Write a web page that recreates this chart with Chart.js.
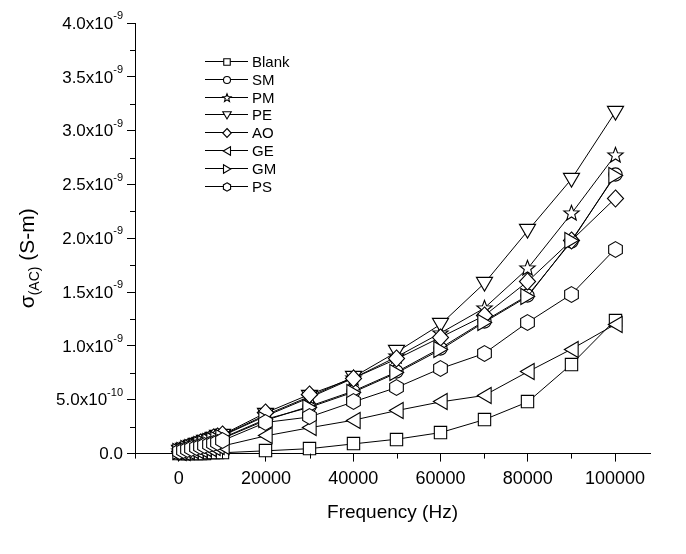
<!DOCTYPE html>
<html>
<head>
<meta charset="utf-8">
<script src="https://cdn.jsdelivr.net/npm/chart.js@4.4.0/dist/chart.umd.min.js"></script>
<style>
  body { margin: 0; background: #fff; }
</style>
</head>
<body>
<canvas id="myChart" width="686" height="554"></canvas>
<script>
// frequency in Hz, conductivity in units of 1e-9 S-m
var freqHz = [100, 1000, 2000, 3000, 4000, 5000, 6000, 7000, 8000, 9000, 10000,
              20000, 30000, 40000, 50000, 60000, 70000, 80000, 90000, 100000];

var blank = [0.001, 0.002, 0.002, 0.003, 0.004, 0.004, 0.005, 0.006, 0.006, 0.007, 0.008,
             0.026, 0.046, 0.09, 0.134, 0.195, 0.315, 0.48, 0.83, 1.24];
var sm    = [0.018, 0.031, 0.043, 0.055, 0.066, 0.079, 0.091, 0.103, 0.115, 0.127, 0.14,
             0.31, 0.44, 0.58, 0.76, 0.98, 1.23, 1.47, 1.97, 2.59];
var pm    = [0.02, 0.034, 0.048, 0.063, 0.077, 0.091, 0.106, 0.12, 0.135, 0.15, 0.165,
             0.35, 0.52, 0.70, 0.90, 1.12, 1.35, 1.72, 2.23, 2.77];
var pe    = [0.02, 0.035, 0.05, 0.066, 0.081, 0.096, 0.11, 0.126, 0.141, 0.156, 0.17,
             0.36, 0.53, 0.71, 0.945, 1.20, 1.58, 2.07, 2.55, 3.17];
var ao    = [0.022, 0.038, 0.054, 0.07, 0.086, 0.10, 0.116, 0.131, 0.146, 0.161, 0.175,
             0.38, 0.55, 0.70, 0.88, 1.08, 1.28, 1.60, 1.98, 2.37];
var ge    = [0.008, 0.014, 0.02, 0.026, 0.032, 0.039, 0.045, 0.051, 0.057, 0.063, 0.07,
             0.165, 0.24, 0.31, 0.40, 0.48, 0.54, 0.76, 0.97, 1.20];
var gm    = [0.018, 0.03, 0.043, 0.056, 0.069, 0.082, 0.095, 0.108, 0.12, 0.133, 0.145,
             0.32, 0.43, 0.57, 0.75, 0.965, 1.22, 1.46, 1.98, 2.58];
var ps    = [0.015, 0.025, 0.035, 0.045, 0.056, 0.066, 0.076, 0.086, 0.096, 0.107, 0.12,
             0.29, 0.34, 0.48, 0.615, 0.79, 0.93, 1.22, 1.48, 1.90];

var seriesNames  = ['Blank', 'SM', 'PM', 'PE', 'AO', 'GE', 'GM', 'PS'];
var seriesValues = [blank, sm, pm, pe, ao, ge, gm, ps];
var seriesShapes = ['square', 'circle', 'star', 'triDown', 'diamond', 'triLeft', 'triRight', 'hexagon'];

var xTicks = [0, 20000, 40000, 60000, 80000, 100000];
var xMinorTicks = [-10000, 10000, 30000, 50000, 70000, 90000];
var yTicks = [0, 0.5, 1, 1.5, 2, 2.5, 3, 3.5, 4];
var yMinorTicks = [0.25, 0.75, 1.25, 1.75, 2.25, 2.75, 3.25, 3.75];
var yTickMant = ['0.0', '5.0x10', '1.0x10', '1.5x10', '2.0x10', '2.5x10', '3.0x10', '3.5x10', '4.0x10'];
var yTickExp  = ['', '-10', '-9', '-9', '-9', '-9', '-9', '-9', '-9'];

var FONT = '"Liberation Sans", Arial, sans-serif';

function makeMarker(shape, k) {
  var size = Math.ceil(20 * k) + 2;
  var c = document.createElement('canvas');
  c.width = size; c.height = size;
  var g = c.getContext('2d');
  g.translate(size / 2, size / 2);
  g.scale(k, k);
  g.beginPath();
  var i, a;
  if (shape == 'square') {
    g.rect(-6.5, -6.5, 13, 13);
  } else if (shape == 'circle') {
    g.arc(0, 0, 7, 0, Math.PI * 2);
  } else if (shape == 'star') {
    for (i = 0; i < 10; i++) {
      a = -Math.PI / 2 + i * Math.PI / 5;
      var r = i % 2 ? 3.6 : 8.5;
      g.lineTo(r * Math.cos(a), r * Math.sin(a));
    }
  } else if (shape == 'triDown') {
    g.moveTo(-8.5, -6.5); g.lineTo(8.5, -6.5); g.lineTo(0, 8);
  } else if (shape == 'diamond') {
    g.moveTo(0, -9); g.lineTo(8.5, 0); g.lineTo(0, 9); g.lineTo(-8.5, 0);
  } else if (shape == 'triLeft') {
    g.moveTo(-7.5, 0); g.lineTo(7, -8.5); g.lineTo(7, 8.5);
  } else if (shape == 'triRight') {
    g.moveTo(7.5, 0); g.lineTo(-7, -8.5); g.lineTo(-7, 8.5);
  } else if (shape == 'hexagon') {
    for (i = 0; i < 6; i++) {
      a = -Math.PI / 2 + i * Math.PI / 3;
      g.lineTo(8.3 * Math.cos(a), 8.3 * Math.sin(a));
    }
  }
  g.closePath();
  g.fillStyle = '#fff';
  g.fill();
  g.lineWidth = 1.1 / k;
  g.strokeStyle = '#000';
  g.stroke();
  return c;
}

var datasets = seriesNames.map(function (name, i) {
  return {
    label: name,
    data: freqHz.map(function (f, j) { return { x: f, y: seriesValues[i][j] }; }),
    borderColor: '#000',
    backgroundColor: '#fff',
    borderWidth: 1,
    pointStyle: makeMarker(seriesShapes[i], 0.95),
    pointRadius: 6,
    fill: false,
    tension: 0,
    clip: false,
    order: seriesNames.length - i
  };
});

var extras = {
  id: 'extras',
  beforeDatasetsDraw: function (chart) {
    // keep the marker images crisp at fractional positions
    chart.ctx.imageSmoothingEnabled = false;
  },
  afterDatasetsDraw: function (chart) {
    chart.ctx.imageSmoothingEnabled = true;
  },
  afterDraw: function (chart) {
    var ctx = chart.ctx, xs = chart.scales.x, ys = chart.scales.y;
    ctx.save();
    ctx.strokeStyle = '#000';
    ctx.lineWidth = 1;
    ctx.beginPath();
    xMinorTicks.forEach(function (v) {
      var px = Math.round(xs.getPixelForValue(v)) + 0.5;
      ctx.moveTo(px, ys.bottom); ctx.lineTo(px, ys.bottom + 5);
    });
    yMinorTicks.forEach(function (v) {
      var py = Math.round(ys.getPixelForValue(v)) + 0.5;
      ctx.moveTo(xs.left, py); ctx.lineTo(xs.left - 5, py);
    });
    ctx.stroke();

    // y tick labels with superscript exponent
    ctx.fillStyle = '#000';
    var right = xs.left - 12;
    yTicks.forEach(function (v, i) {
      var py = ys.getPixelForValue(v);
      ctx.font = '11px ' + FONT;
      var ew = yTickExp[i] ? ctx.measureText(yTickExp[i]).width : 0;
      ctx.textBaseline = 'middle';
      ctx.textAlign = 'left';
      if (ew) ctx.fillText(yTickExp[i], right - ew, py - 7);
      ctx.font = '17px ' + FONT;
      ctx.textAlign = 'right';
      ctx.fillText(yTickMant[i], right - ew, py + 1);
    });

    // y axis title with subscript
    ctx.save();
    ctx.translate(27, (ys.top + ys.bottom) / 2 + 20);
    ctx.rotate(-Math.PI / 2);
    ctx.textAlign = 'left';
    ctx.textBaseline = 'alphabetic';
    ctx.font = '21px ' + FONT;
    var w1 = ctx.measureText('\u03c3').width;
    var w3 = ctx.measureText(' (S-m)').width;
    ctx.font = '14px ' + FONT;
    var w2 = ctx.measureText('(AC)').width;
    var x0 = -(w1 + w2 + w3) / 2;
    ctx.font = '21px ' + FONT;
    ctx.fillText('\u03c3', x0, 7);
    ctx.font = '14px ' + FONT;
    ctx.fillText('(AC)', x0 + w1, 12);
    ctx.font = '21px ' + FONT;
    ctx.fillText(' (S-m)', x0 + w1 + w2, 7);
    ctx.restore();

    // legend
    ctx.font = '15px ' + FONT;
    ctx.textAlign = 'left';
    ctx.textBaseline = 'middle';
    seriesNames.forEach(function (name, i) {
      var y = Math.round(61 + i * 17.8) + 0.5;
      ctx.beginPath();
      ctx.moveTo(205, y); ctx.lineTo(248, y);
      ctx.stroke();
      var m = makeMarker(seriesShapes[i], 0.5);
      ctx.drawImage(m, Math.round(227 - m.width / 2), Math.round(y - m.height / 2));
      ctx.fillText(name, 252, y + 1);
    });
    ctx.restore();
  }
};

Chart.defaults.color = '#000';
Chart.defaults.font.family = FONT;

var ctx = document.getElementById('myChart');
var myChart = new Chart(ctx, {
  type: 'line',
  data: { datasets: datasets },
  options: {
    responsive: false,
    animation: false,
    devicePixelRatio: 1,
    layout: { autoPadding: false, padding: { left: 127, top: 23, right: 36, bottom: 30 } },
    plugins: { legend: { display: false }, tooltip: { enabled: false } },
    scales: {
      x: {
        type: 'linear',
        min: -10000,
        max: 108000,
        afterBuildTicks: function (axis) { axis.ticks = xTicks.map(function (v) { return { value: v }; }); },
        ticks: { font: { size: 18 }, padding: 7, maxRotation: 0, callback: function (v) { return String(v); } },
        grid: { display: true, drawOnChartArea: false, drawTicks: true, tickLength: 8, color: '#000', tickColor: '#000' },
        border: { display: true, color: '#000', width: 1 },
        title: { display: true, text: 'Frequency (Hz)', font: { size: 19 }, padding: { top: 4, bottom: 0 } }
      },
      y: {
        type: 'linear',
        min: 0,
        max: 4,
        afterBuildTicks: function (axis) { axis.ticks = yTicks.map(function (v) { return { value: v }; }); },
        ticks: { display: false },
        grid: { display: true, drawOnChartArea: false, drawTicks: true, tickLength: 8, color: '#000', tickColor: '#000' },
        border: { display: true, color: '#000', width: 1 }
      }
    }
  },
  plugins: [extras]
});
</script>
</body>
</html>
